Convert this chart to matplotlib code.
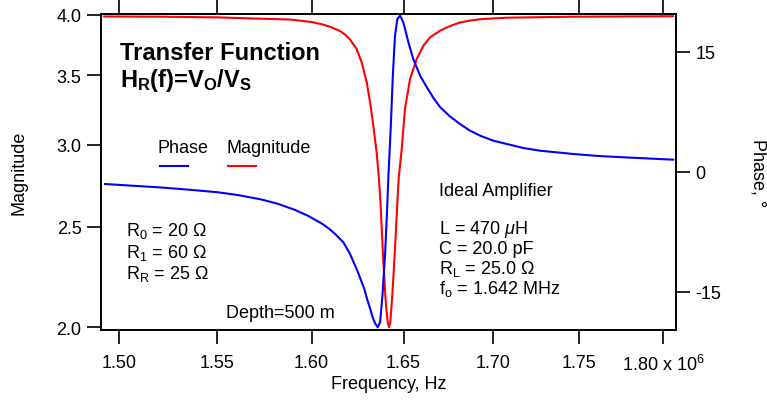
import numpy as np
import matplotlib
matplotlib.use("Agg")
import matplotlib.pyplot as plt
from matplotlib.ticker import NullLocator
from matplotlib.lines import Line2D

plt.rcParams['font.family'] = ['Liberation Sans', 'DejaVu Sans']
plt.rcParams['mathtext.fontset'] = 'custom'
plt.rcParams['mathtext.rm'] = 'Liberation Sans'
plt.rcParams['mathtext.it'] = 'Liberation Sans:italic'
plt.rcParams['mathtext.bf'] = 'Liberation Sans:bold'

# ---------- transfer function data (frequency in MHz) ----------
mag_freq = [1.4925, 1.5212, 1.5500, 1.5734, 1.5884, 1.6002, 1.6056, 1.6099,
            1.6153, 1.6180, 1.6207, 1.6243, 1.6270, 1.6298, 1.6316, 1.6334,
            1.6352, 1.6365, 1.6373, 1.6389, 1.6402, 1.6413, 1.6420, 1.6427,
            1.6438, 1.6453, 1.6466, 1.6473, 1.6490, 1.6508, 1.6536, 1.6573,
            1.6610, 1.6647, 1.6703, 1.6759, 1.6815, 1.6872, 1.6929, 1.7004,
            1.7081, 1.7464, 1.8059]
mag_vals = [3.987, 3.985, 3.979, 3.967, 3.960, 3.938, 3.918, 3.897,
            3.860, 3.830, 3.788, 3.709, 3.601, 3.445, 3.295, 3.128,
            2.949, 2.780, 2.639, 2.310, 2.114, 2.022, 2.000, 2.022,
            2.145, 2.380, 2.639, 2.780, 2.971, 3.247, 3.470, 3.627,
            3.736, 3.806, 3.863, 3.903, 3.934, 3.951, 3.962, 3.970,
            3.976, 3.985, 3.989]

phase_freq = [1.4930, 1.5216, 1.5360, 1.5507, 1.5612, 1.5734, 1.5822, 1.5911,
              1.5982, 1.6054, 1.6094, 1.6128, 1.6171, 1.6207, 1.6243, 1.6285,
              1.6298, 1.6316, 1.6330, 1.6343, 1.6358, 1.6371, 1.6384, 1.6398,
              1.6410, 1.6416, 1.6430, 1.6441, 1.6453, 1.6466, 1.6481, 1.6499,
              1.6527, 1.6554, 1.6592, 1.6629, 1.6647, 1.6666, 1.6703, 1.6759,
              1.6815, 1.6872, 1.6929, 1.7004, 1.7081, 1.7175, 1.7272, 1.7466,
              1.7613, 1.7760, 1.8060]
phase_vals = [-1.56, -2.00, -2.28, -2.60, -2.95, -3.50, -4.05, -4.80,
              -5.55, -6.50, -7.15, -7.85, -8.85, -10.31, -12.19, -14.69,
              -15.80, -17.10, -18.20, -18.95, -19.48, -18.85, -15.50, -10.50,
              -4.50, -0.94, 5.73, 11.98, 16.98, 19.06, 19.48, 18.65,
              16.15, 14.06, 11.98, 10.53, 9.90, 9.19, 8.06, 6.88,
              5.94, 5.10, 4.48, 3.85, 3.44, 2.94, 2.60, 2.19,
              1.94, 1.78, 1.48]

x_ticks = [1.50, 1.55, 1.60, 1.65, 1.70, 1.75, 1.80]
x_ticklabels = ['1.50', '1.55', '1.60', '1.65', '1.70', '1.75', '1.80 x 10$^{6}$']
mag_ticks = [2.0, 2.5, 3.0, 3.5, 4.0]
mag_ticklabels = ['2.0', '2.5', '3.0', '3.5', '4.0']
phase_ticks = [-15, 0, 15]

RED = '#ff0000'
BLUE = '#0000ff'
FS = 13

fig = plt.figure(figsize=(7.67, 4.06), dpi=100)
ax = fig.add_axes([0.1317, 0.1847, 0.7497, 0.7784])

# ---------- magnitude (left, log axes) ----------
ax.plot(np.array(mag_freq) * 1e6, mag_vals, color=RED, lw=1.5)
ax.set_xscale('log')
ax.set_yscale('log')
ax.set_xlim(1.4910e6, 1.8077e6)
ax.set_ylim(1.988, 4.009)
ax.set_xticks(np.array(x_ticks) * 1e6, x_ticklabels)
ax.set_yticks(mag_ticks, mag_ticklabels)
ax.xaxis.set_minor_locator(NullLocator())
ax.yaxis.set_minor_locator(NullLocator())

# ---------- phase (right axis) ----------
ax2 = ax.twinx()
ax2.plot(np.array(phase_freq) * 1e6, phase_vals, color=BLUE, lw=1.5)
ax2.set_ylim(-19.81, 19.69)
ax2.set_yticks(phase_ticks, [str(t) for t in phase_ticks])
ax2.yaxis.set_minor_locator(NullLocator())

ax.tick_params(axis='x', which='major', direction='out', length=10, width=1.2,
               labelsize=FS, pad=7, top=True)
ax.tick_params(axis='y', which='major', direction='out', length=10, width=1.2,
               labelsize=FS, pad=4)
ax2.tick_params(axis='y', which='major', direction='out', length=10, width=1.2,
                labelsize=FS, pad=4)
for a in (ax, ax2):
    for s in a.spines.values():
        s.set_linewidth(1.2)

# ---------- axis labels ----------
fig.text(19 / 767, 1 - 173 / 406, 'Magnitude', rotation=90,
         ha='center', va='center', fontsize=FS)
fig.text(758 / 767, 1 - 173 / 406, 'Phase, °', rotation=270,
         ha='center', va='center', fontsize=FS)
fig.text(389 / 767, 1 - 385 / 406, 'Frequency, Hz',
         ha='center', va='center', fontsize=FS)


def at(px, py):
    # pixel position inside the plot box -> axes fraction
    return (px - 101) / 575, (331 - py) / 316


tr = ax.transAxes

ax.text(*at(120, 60), 'Transfer Function', transform=tr, fontsize=17,
        fontweight='bold', va='baseline')
ax.text(*at(120, 86.7),
        r'H$_\mathbf{R}$(f)=V$_\mathbf{O}$/V$_\mathbf{S}$',
        transform=tr, fontsize=17, fontweight='bold', va='baseline')

# legend: names above short line samples
ax.text(*at(157, 153), 'Phase', transform=tr, fontsize=FS, va='baseline')
ax.text(*at(226, 153), 'Magnitude', transform=tr, fontsize=FS, va='baseline')
for (x0, x1), c in (((160, 188), BLUE), ((228, 256), RED)):
    p0, p1 = at(x0, 167), at(x1, 167)
    ax.add_line(Line2D([p0[0], p1[0]], [p0[1], p1[1]], color=c, lw=1.5,
                       transform=tr))

ax.text(*at(439, 196.5), 'Ideal Amplifier', transform=tr, fontsize=FS,
        va='baseline')

right_lines = [r'L = 470 $\mu$H', 'C = 20.0 pF', r'R$_\mathrm{L}$ = 25.0 Ω',
               r'f$_\mathrm{o}$ = 1.642 MHz']
for i, s in enumerate(right_lines):
    ax.text(*at(439, 233.5 + 20.2 * i), s, transform=tr, fontsize=FS,
            va='baseline')

left_lines = [r'R$_0$ = 20 Ω', r'R$_1$ = 60 Ω', r'R$_\mathrm{R}$ = 25 Ω']
for i, s in enumerate(left_lines):
    ax.text(*at(126, 236 + 21.5 * i), s, transform=tr, fontsize=FS,
            va='baseline')

ax.text(*at(226, 318), 'Depth=500 m', transform=tr, fontsize=FS,
        va='baseline')

fig.savefig('out.png', dpi=100)
